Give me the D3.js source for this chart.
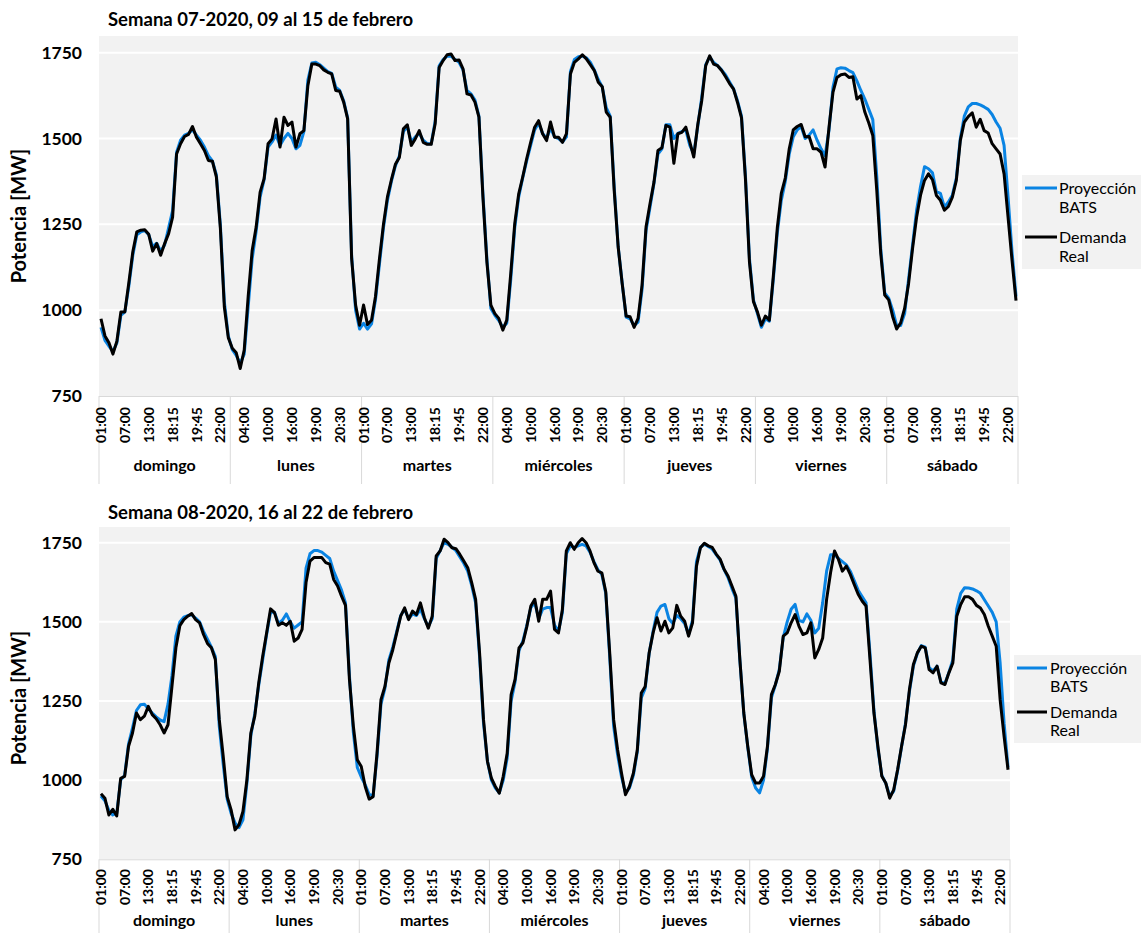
<!DOCTYPE html>
<html><head><meta charset="utf-8">
<script src="https://cdn.jsdelivr.net/npm/d3@7/dist/d3.min.js"></script>
<style>
body{margin:0;background:#fff}
svg{display:block}
text{font-family:Lato,"Open Sans",sans-serif;fill:#000}
</style></head><body>
<svg id="chart" width="1141" height="933"></svg>
<script>
// ---------- data ----------
const days = ["domingo","lunes","martes","miércoles","jueves","viernes","sábado"];
const hours = ["01:00","02:00","03:00","04:00","05:00","06:00","07:00","08:00","09:00","10:00","11:00","12:00",
  "13:00","14:00","15:00","16:00","17:00","18:00","18:15","18:30","18:45","19:00","19:15","19:30","19:45",
  "20:00","20:15","20:30","20:45","21:00","22:00","23:00","24:00"];
const yTicks = [750,1000,1250,1500,1750];
const seriesNames = [["Proyección","BATS"],["Demanda","Real"]];
const titles = ["Semana 07-2020, 09 al 15 de febrero","Semana 08-2020, 16 al 22 de febrero"];
const yAxisTitle = "Potencia [MW]";

const w07Real = [
 975,925,905,872,910,995,995,1080,1170,1228,1233,1234,1221,1172,1194,1160,1194,1223,1271,1455,1485,1506,1512,1535,1504,1485,1465,1436,1434,1388,1240,1010,920,
 889,876,830,884,1040,1174,1242,1344,1383,1485,1499,1557,1475,1562,1538,1548,1475,1514,1523,1654,1717,1717,1712,1700,1693,1688,1640,1638,1606,1557,1150,1015,956,
 1015,958,971,1040,1150,1250,1330,1380,1425,1445,1528,1540,1480,1499,1523,1489,1483,1483,1543,1707,1727,1744,1746,1727,1729,1703,1630,1627,1606,1562,1330,1140,1015,
 990,976,942,971,1107,1252,1339,1388,1441,1489,1533,1552,1514,1494,1548,1504,1504,1489,1514,1688,1722,1732,1744,1732,1715,1698,1664,1651,1577,1562,1349,1184,1078,
 983,981,950,976,1073,1242,1310,1373,1465,1473,1538,1533,1428,1514,1518,1533,1490,1446,1540,1610,1712,1741,1717,1712,1698,1680,1660,1644,1605,1560,1380,1140,1025,
 995,956,983,971,1100,1240,1340,1385,1470,1525,1535,1541,1505,1506,1470,1470,1460,1417,1533,1635,1678,1686,1688,1678,1680,1615,1625,1577,1545,1509,1349,1165,1044,
 1030,981,945,963,1005,1078,1180,1270,1335,1378,1397,1380,1334,1320,1291,1302,1329,1378,1494,1548,1564,1575,1533,1556,1523,1516,1485,1470,1455,1397,1271,1145,1028];
const w07BATS = [
 950,912,895,880,905,985,995,1070,1160,1220,1228,1232,1220,1185,1195,1172,1190,1240,1290,1460,1495,1510,1515,1525,1510,1495,1475,1450,1435,1395,1250,1025,925,
 885,868,845,872,1010,1150,1230,1330,1380,1475,1490,1510,1480,1500,1515,1500,1470,1480,1520,1670,1720,1722,1715,1705,1695,1690,1650,1640,1610,1560,1160,1000,945,
 962,945,960,1030,1135,1240,1320,1375,1420,1450,1520,1535,1490,1505,1515,1495,1485,1485,1550,1712,1730,1740,1740,1730,1722,1700,1640,1630,1612,1565,1340,1150,1005,
 985,970,950,962,1090,1240,1330,1385,1435,1480,1525,1545,1515,1500,1530,1505,1500,1490,1505,1695,1730,1738,1740,1735,1722,1700,1672,1650,1590,1565,1360,1185,1080,
 980,975,955,965,1060,1232,1300,1370,1455,1470,1540,1540,1500,1515,1520,1525,1480,1455,1535,1620,1715,1738,1722,1712,1700,1685,1665,1645,1610,1565,1390,1150,1030,
 990,950,975,968,1090,1225,1320,1375,1455,1505,1525,1535,1500,1510,1525,1495,1470,1450,1525,1650,1703,1706,1705,1698,1692,1668,1640,1615,1585,1555,1390,1180,1050,
 1035,1000,955,955,990,1090,1190,1290,1360,1418,1412,1400,1345,1340,1300,1315,1335,1385,1500,1565,1592,1602,1602,1598,1592,1585,1570,1548,1530,1480,1330,1170,1040];
const w08Real = [
 957,943,890,908,887,1006,1012,1107,1149,1212,1191,1202,1233,1207,1194,1175,1149,1175,1296,1418,1488,1507,1518,1526,1507,1497,1460,1432,1418,1381,1191,1075,948,
 906,843,859,901,1001,1149,1202,1307,1391,1465,1541,1529,1489,1497,1489,1502,1439,1449,1476,1624,1692,1703,1703,1703,1687,1682,1634,1613,1581,1552,1318,1170,1064,
 1043,980,940,948,1085,1254,1296,1370,1412,1465,1518,1544,1507,1534,1523,1560,1513,1480,1518,1708,1724,1761,1750,1734,1731,1713,1692,1671,1624,1571,1402,1191,1059,
 1006,980,959,1012,1085,1270,1318,1418,1434,1486,1550,1571,1502,1571,1571,1597,1476,1465,1539,1724,1750,1729,1750,1763,1750,1724,1687,1660,1655,1595,1402,1191,1096,
 1022,954,980,1022,1096,1275,1296,1402,1465,1513,1471,1502,1465,1481,1552,1518,1502,1455,1497,1676,1734,1748,1740,1735,1714,1698,1666,1645,1613,1581,1381,1212,1107,
 1017,991,991,1012,1107,1270,1302,1344,1455,1465,1497,1523,1486,1460,1465,1497,1386,1413,1449,1571,1655,1724,1697,1660,1676,1650,1618,1587,1566,1550,1381,1212,1107,
 1012,991,943,969,1033,1107,1175,1286,1365,1402,1423,1418,1349,1339,1360,1307,1302,1339,1370,1518,1555,1579,1579,1571,1552,1544,1523,1486,1455,1423,1254,1138,1033];
const w08BATS = [
 950,935,905,890,895,1000,1015,1115,1165,1220,1238,1240,1225,1212,1200,1190,1185,1240,1330,1455,1500,1515,1520,1522,1512,1500,1470,1445,1420,1390,1170,1050,940,
 895,865,850,875,990,1140,1210,1300,1380,1460,1530,1530,1495,1505,1525,1500,1480,1490,1500,1670,1715,1725,1725,1720,1710,1700,1660,1630,1600,1560,1330,1150,1040,
 1010,985,955,950,1075,1240,1290,1380,1420,1470,1520,1540,1510,1525,1520,1540,1510,1485,1510,1700,1725,1750,1745,1735,1725,1705,1685,1660,1615,1560,1390,1180,1060,
 1000,975,960,1000,1070,1250,1310,1410,1440,1490,1545,1560,1510,1540,1545,1545,1490,1470,1530,1715,1740,1735,1740,1745,1740,1720,1690,1665,1650,1590,1390,1170,1080,
 1010,960,975,1015,1090,1260,1290,1400,1470,1530,1550,1555,1510,1495,1520,1510,1495,1460,1505,1690,1735,1745,1738,1730,1712,1695,1665,1640,1605,1575,1380,1210,1105,
 1010,975,960,1000,1100,1260,1300,1350,1450,1500,1540,1555,1505,1500,1525,1505,1465,1480,1560,1660,1712,1712,1700,1690,1680,1660,1630,1600,1580,1560,1400,1220,1100,
 1015,990,950,965,1030,1105,1180,1280,1360,1400,1425,1420,1355,1345,1360,1310,1305,1340,1380,1540,1590,1608,1607,1604,1598,1590,1570,1550,1530,1500,1370,1180,1040];

// categories built from days x hours
const categories = [];
days.forEach(d => hours.forEach(h => categories.push({day:d, hour:h})));

// ---------- layout ----------
const colors = {bats:"#0a84e3", real:"#000000", plotBg:"#f2f2f2", grid:"#ffffff", sep:"#d9d9d9"};
const panels = [
  {title:titles[0], bats:w07BATS, real:w07Real,
   left:99, right:1018, top:36, yLow:396, yHigh:52.7, titleY:26, axisTitleY:216,
   tickTop:407, dayY:471, sepBottom:484,
   legend:{x:1022, y:175, w:119, h:94, lx0:1025, lx1:1057, tx:1059, rows:[188,237], lh:19}},
  {title:titles[1], bats:w08BATS, real:w08Real,
   left:99, right:1010, top:527, yLow:859.3, yHigh:542.7, titleY:519, axisTitleY:698,
   tickTop:869, dayY:926, sepBottom:933,
   legend:{x:1014, y:655, w:127, h:88, lx0:1017, lx1:1047, tx:1050, rows:[668,712], lh:18.5}}
];

const svg = d3.select("#chart");

panels.forEach(p => {
  const g = svg.append("g");
  const x = d3.scaleBand().domain(d3.range(categories.length)).range([p.left, p.right]).paddingInner(0).paddingOuter(0);
  const y = d3.scaleLinear().domain([750,1750]).range([p.yLow, p.yHigh]);
  const cx = i => x(i) + x.bandwidth()/2;

  // plot background
  g.append("rect").attr("x", p.left).attr("y", p.top).attr("width", p.right - p.left).attr("height", p.yLow - p.top)
    .attr("fill", colors.plotBg);

  // gridlines
  g.append("g").selectAll("line").data(yTicks.filter(t => t > 750)).join("line")
    .attr("x1", p.left).attr("x2", p.right).attr("y1", d => y(d)).attr("y2", d => y(d))
    .attr("stroke", colors.grid).attr("stroke-width", 2);

  // x axis line
  g.append("line").attr("x1", p.left).attr("x2", p.right).attr("y1", p.yLow + 0.5).attr("y2", p.yLow + 0.5)
    .attr("stroke", colors.sep).attr("stroke-width", 1);

  // day separators
  const dayBounds = d3.range(days.length + 1).map(k => k === days.length ? p.right : x(k * hours.length));
  g.append("g").selectAll("line").data(dayBounds).join("line")
    .attr("x1", d => d).attr("x2", d => d).attr("y1", p.yLow).attr("y2", p.sepBottom)
    .attr("stroke", colors.sep).attr("stroke-width", 1);

  // y axis (labels only)
  const yAxis = d3.axisLeft(y).tickValues(yTicks).tickSize(0).tickPadding(0).tickFormat(d3.format("d"));
  const ya = g.append("g").attr("transform", `translate(${p.left - 17},0)`).call(yAxis);
  ya.select(".domain").remove();
  ya.selectAll("text").attr("font-size", 17.5).attr("font-weight", 700)
    .style("font-family", "Lato, sans-serif").attr("fill", "#000");

  // x tick labels (every 6th category), rotated
  const tickIdx = d3.range(categories.length).filter(i => i % 6 === 0);
  const xAxis = d3.axisBottom(x).tickValues(tickIdx).tickSize(0).tickFormat(i => categories[i].hour);
  const xa = g.append("g").attr("transform", `translate(0,${p.tickTop})`).call(xAxis);
  xa.select(".domain").remove();
  xa.selectAll("text")
    .attr("transform", "rotate(-90)")
    .attr("x", 0).attr("y", 0).attr("dy", "0.36em")
    .attr("text-anchor", "end")
    .attr("font-size", 14).attr("font-weight", 700)
    .style("font-family", "Lato, sans-serif").attr("fill", "#000");

  // day labels
  g.append("g").selectAll("text").data(days).join("text")
    .attr("x", (d, k) => (dayBounds[k] + dayBounds[k + 1]) / 2).attr("y", p.dayY)
    .attr("text-anchor", "middle").attr("font-size", 16).attr("font-weight", 700).text(d => d);

  // lines
  const line = d3.line().x((d, i) => cx(i)).y(d => y(d));
  g.append("path").datum(p.bats).attr("d", line).attr("fill", "none")
    .attr("stroke", colors.bats).attr("stroke-width", 3).attr("stroke-linejoin", "round");
  g.append("path").datum(p.real).attr("d", line).attr("fill", "none")
    .attr("stroke", colors.real).attr("stroke-width", 3).attr("stroke-linejoin", "round");

  // title
  g.append("text").attr("x", 108).attr("y", p.titleY).attr("font-size", 18.5).attr("font-weight", 700).text(p.title);

  // y-axis title
  g.append("text").attr("transform", `translate(26,${p.axisTitleY}) rotate(-90)`)
    .attr("text-anchor", "middle").attr("font-size", 20).attr("font-weight", 700).text(yAxisTitle);

  // legend
  const L = p.legend;
  const lg = g.append("g");
  lg.append("rect").attr("x", L.x).attr("y", L.y).attr("width", L.w).attr("height", L.h).attr("fill", colors.plotBg);
  [colors.bats, colors.real].forEach((c, k) => {
    lg.append("line").attr("x1", L.lx0).attr("x2", L.lx1).attr("y1", L.rows[k]).attr("y2", L.rows[k])
      .attr("stroke", c).attr("stroke-width", 3);
    seriesNames[k].forEach((t, j) => {
      lg.append("text").attr("x", L.tx).attr("y", L.rows[k] + j * L.lh).attr("dy", "0.35em")
        .attr("font-size", 16).text(t);
    });
  });
});
</script>
</body></html>
